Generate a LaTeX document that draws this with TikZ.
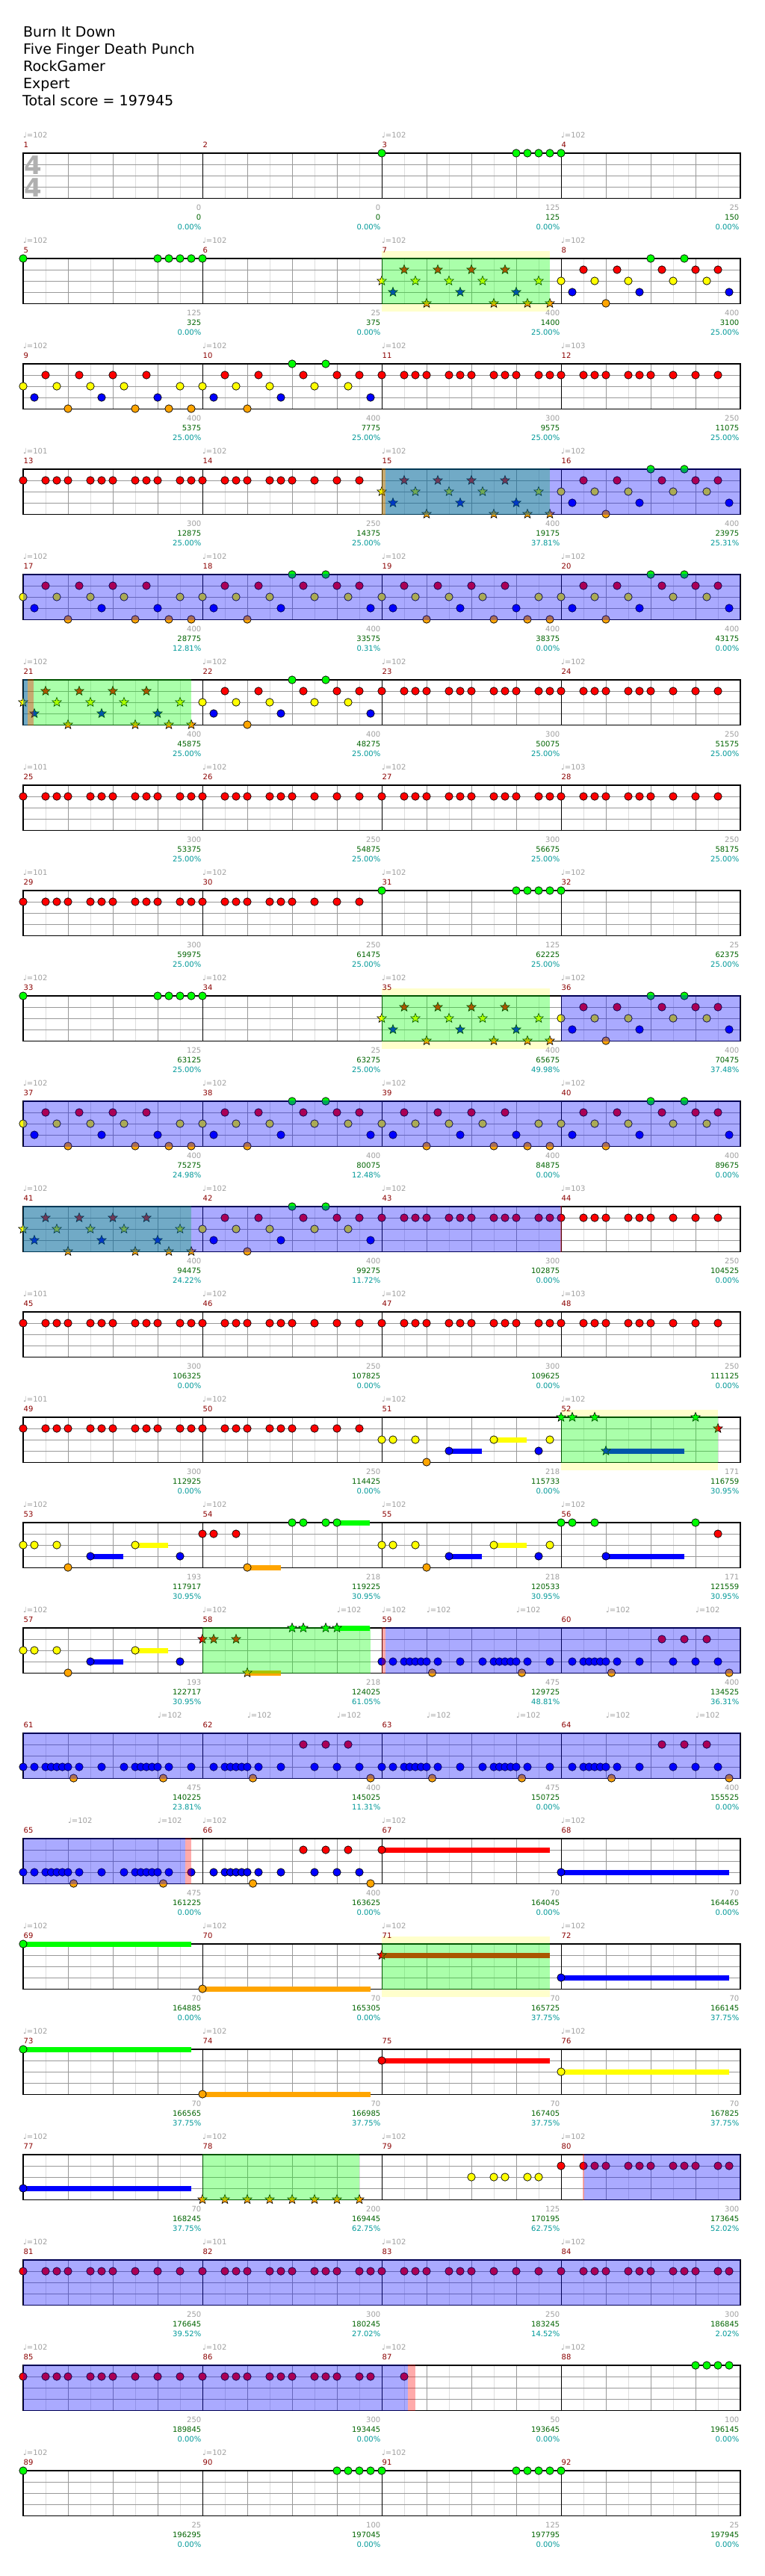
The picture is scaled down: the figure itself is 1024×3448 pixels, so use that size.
\documentclass[tikz,border=0pt]{standalone}
\usepackage{fontspec}
\setmainfont{DejaVu Sans}
\usetikzlibrary{shapes.geometric}
\definecolor{cG}{HTML}{00FF00}
\definecolor{cR}{HTML}{FF0000}
\definecolor{cY}{HTML}{FFFF00}
\definecolor{cB}{HTML}{0000FF}
\definecolor{cO}{HTML}{FFA500}
\definecolor{gridd}{HTML}{999999}
\definecolor{gridl}{HTML}{DDDDDD}
\definecolor{pale}{HTML}{FFFFCC}
\definecolor{tgray}{HTML}{A0A0A0}
\definecolor{tgreen}{HTML}{006400}
\definecolor{tcyan}{HTML}{009999}
\definecolor{tred}{HTML}{8B0000}
\definecolor{tsg}{HTML}{B0B0B0}
\tikzset{
 starn/.style={star,star points=5,star point ratio=2.3,minimum size=13,inner sep=0,draw=black,line width=0.6},
 tempo/.style={anchor=west,inner sep=0,text=tgray,font=\fontsize{10}{12}\selectfont},
 mnum/.style={anchor=west,inner sep=0,text=tred,font=\fontsize{10}{12}\selectfont},
 lg/.style={anchor=east,inner sep=0,text=tgray,font=\fontsize{10}{12}\selectfont},
 lgr/.style={anchor=east,inner sep=0,text=tgreen,font=\fontsize{10}{12}\selectfont},
 lc/.style={anchor=east,inner sep=0,text=tcyan,font=\fontsize{10}{12}\selectfont},
 head/.style={anchor=base west,inner sep=0,font=\fontsize{19}{23}\selectfont},
 ts/.style={inner sep=0,text=tsg,font=\fontsize{34}{34}\selectfont\bfseries}
}
\newcommand\Nt[3]{\filldraw[fill=#3,draw=black,line width=0.7] ({15*(#1)},#2) circle[radius=5.2];}
\newcommand\St[3]{\node[starn,fill=#3] at ({15*(#1)},#2) {};}
\newcommand\Sus[4]{\fill[#4] ({15*(#1)},{#2-3.5}) rectangle ({15*(#3)},{#2+3.5});}
\newcommand\Staff{%
 \fill[white] (0,0) rectangle (960,60.5);
 \foreach \i in {1,3,...,31} \draw[gridl,line width=1] ({30*\i},0) -- ({30*\i},60.5);
 \foreach \i in {1,2,3,5,6,7,9,10,11,13,14,15} \draw[gridd,line width=1] ({60*\i},0) -- ({60*\i},60.5);
 \foreach \yy in {15,30,45} \draw[gridd,line width=1] (0,\yy) -- (960,\yy);
 \foreach \i in {4,8,12} \draw[black,line width=1] ({60*\i},0) -- ({60*\i},60.5);
 \draw[black,line width=1.3] (0,0) rectangle (960,60.5);}
\newcommand\OD[2]{\fill[cB,opacity=0.333] ({15*(#1)},-0.65) rectangle ({15*(#2)},61.15);}
\newcommand\SP[2]{\fill[cG,opacity=0.333] ({15*(#1)},-0.65) rectangle ({15*(#2)},61.15);}
\newcommand\RS[2]{\fill[cR,opacity=0.333] ({15*(#1)},-0.65) rectangle ({15*(#2)},61.15);}
\newcommand\PY[2]{\fill[pale] ({15*(#1)},-10) rectangle ({15*(#2)},71);}
\newcommand\Tm[2]{\node[tempo] at ({15*(#1)},-24) {♩=#2};}
\newcommand\Mn[2]{\node[mnum] at ({240*(#1)+0.5},-11) {#2};}
\newcommand\Lb[4]{\node[lg] at ({240*(#1)+238.5},73) {#2};
 \node[lgr] at ({240*(#1)+238.5},86) {#3};
 \node[lc] at ({240*(#1)+238.5},99) {#4\%};}
% patterns
\newcommand\PA[2]{%
 \foreach \p in {0,3,6,9,14}{#1{#2+\p}{30}{cY}}%
 \foreach \p in {1,7,12}{#1{#2+\p}{45}{cB}}%
 \foreach \p in {2,5,8,11}{#1{#2+\p}{15}{cR}}%
 \foreach \p in {4,10,13,15}{#1{#2+\p}{60}{cO}}}
\newcommand\PB[2]{%
 \foreach \p in {0,3,6,10,13}{#1{#2+\p}{30}{cY}}%
 \foreach \p in {1,7,15}{#1{#2+\p}{45}{cB}}%
 \foreach \p in {2,5,9,12,14}{#1{#2+\p}{15}{cR}}%
 #1{#2+4}{60}{cO}%
 \foreach \p in {8,11}{#1{#2+\p}{0}{cG}}}
\newcommand\RA[1]{\foreach \p in {0,2,3,4,6,7,8,10,11,12,14,15}{\Nt{#1+\p}{15}{cR}}}
\newcommand\RB[1]{\foreach \p in {0,2,3,4,6,7,8,10,12,14}{\Nt{#1+\p}{15}{cR}}}
\newcommand\GI[1]{\foreach \p in {0,12,13,14,15,16}{\Nt{#1+\p}{0}{cG}}}
\newcommand\PC[1]{\foreach \p in {0,1,2,2.5,3,3.5,4,5,7,9,10,10.5,11,11.5,12,13,15}{\Nt{#1+\p}{45}{cB}}%
 \foreach \p in {4.5,12.5}{\Nt{#1+\p}{60}{cO}}}
\newcommand\PD[1]{\foreach \p in {1,2,2.5,3,3.5,4,5,7,10,12,14}{\Nt{#1+\p}{45}{cB}}%
 \foreach \p in {4.5,15}{\Nt{#1+\p}{60}{cO}}\foreach \p in {9,11,13}{\Nt{#1+\p}{15}{cR}}}
\newcommand\SC[1]{\Sus{#1+6}{45}{#1+8.92}{cB}\Sus{#1+10}{30}{#1+12.95}{cY}%
 \foreach \p in {0,1,3,10}{\Nt{#1+\p}{30}{cY}}\Nt{#1+4}{60}{cO}\Nt{#1+6}{45}{cB}\Nt{#1+14}{45}{cB}}
\newcommand\SA[1]{\SC{#1}\Nt{#1+15}{30}{cY}}
\newcommand\SB[2]{\Sus{#2+4}{45}{#2+11}{cB}\foreach \p in {0,1,3,12}{#1{#2+\p}{0}{cG}}#1{#2+4}{45}{cB}#1{#2+14}{15}{cR}}
\newcommand\SD[2]{\Sus{#2+4}{60}{#2+6.97}{cO}\Sus{#2+12}{0}{#2+14.93}{cG}%
 \foreach \p in {0,1,3}{#1{#2+\p}{15}{cR}}#1{#2+4}{60}{cO}\foreach \p in {8,9,11,12}{#1{#2+\p}{0}{cG}}}
\newcommand\Lng[4]{\Sus{#1}{#2}{#3}{#4}\Nt{#1}{#2}{#4}}
\begin{document}
\begin{tikzpicture}[x=1pt,y=-1pt]
\fill[white] (0,0) rectangle (1024,3448);
\useasboundingbox (0,0) rectangle (1024,3448);
\node[head] (t1) at (31,49) {Burn It Down};
\node[head] (t2) at (31,72) {Five Finger Death Punch};
\node[head] (t3) at (31,95) {RockGamer};
\node[head] (t4) at (31,118) {Expert};
\node[head] (t5) at (30,141) {Total score = 197945};
% row 1
\begin{scope}[shift={(31,205)}]
\Staff
\node[ts] at (13.5,15.8) {4};\node[ts] at (13.5,45.8) {4};
\GI{32}
\Tm{0}{102}\Tm{32}{102}\Tm{48}{102}
\Mn{0}{1}\Mn{1}{2}\Mn{2}{3}\Mn{3}{4}
\Lb{0}{0}{0}{0.00}\Lb{1}{0}{0}{0.00}\Lb{2}{125}{125}{0.00}\Lb{3}{25}{150}{0.00}
\end{scope}
% row 2
\begin{scope}[shift={(31,346)}]
\PY{32}{47}\Staff
\GI{0}\PA\St{32}\PB\Nt{48}
\SP{32}{47}
\Tm{0}{102}\Tm{16}{102}\Tm{32}{102}\Tm{48}{102}
\Mn{0}{5}\Mn{1}{6}\Mn{2}{7}\Mn{3}{8}
\Lb{0}{125}{325}{0.00}\Lb{1}{25}{375}{0.00}\Lb{2}{400}{1400}{25.00}\Lb{3}{400}{3100}{25.00}
\end{scope}
% row 3
\begin{scope}[shift={(31,487)}]
\Staff
\PA\Nt{0}\PB\Nt{16}\RA{32}\RB{48}
\Tm{0}{102}\Tm{16}{102}\Tm{32}{102}\Tm{48}{103}
\Mn{0}{9}\Mn{1}{10}\Mn{2}{11}\Mn{3}{12}
\Lb{0}{400}{5375}{25.00}\Lb{1}{400}{7775}{25.00}\Lb{2}{300}{9575}{25.00}\Lb{3}{250}{11075}{25.00}
\end{scope}
% row 4
\begin{scope}[shift={(31,628)}]
\Staff
\RA{0}\RB{16}\PA\St{32}\PB\Nt{48}
\SP{32}{47}\OD{32.35}{64}\RS{32}{32.35}
\Tm{0}{101}\Tm{16}{102}\Tm{32}{102}\Tm{48}{102}
\Mn{0}{13}\Mn{1}{14}\Mn{2}{15}\Mn{3}{16}
\Lb{0}{300}{12875}{25.00}\Lb{1}{250}{14375}{25.00}\Lb{2}{400}{19175}{37.81}\Lb{3}{400}{23975}{25.31}
\end{scope}
% row 5
\begin{scope}[shift={(31,769)}]
\Staff
\PA\Nt{0}\PB\Nt{16}\PA\Nt{32}\PB\Nt{48}
\OD{0}{64}
\Tm{0}{102}\Tm{16}{102}\Tm{32}{102}\Tm{48}{102}
\Mn{0}{17}\Mn{1}{18}\Mn{2}{19}\Mn{3}{20}
\Lb{0}{400}{28775}{12.81}\Lb{1}{400}{33575}{0.31}\Lb{2}{400}{38375}{0.00}\Lb{3}{400}{43175}{0.00}
\end{scope}
% row 6
\begin{scope}[shift={(31,910)}]
\Staff
\PA\St{0}\PB\Nt{16}\RA{32}\RB{48}
\SP{0}{15}\OD{0}{0.4}\RS{0.4}{0.96}
\Tm{0}{102}\Tm{16}{102}\Tm{32}{102}\Tm{48}{102}
\Mn{0}{21}\Mn{1}{22}\Mn{2}{23}\Mn{3}{24}
\Lb{0}{400}{45875}{25.00}\Lb{1}{400}{48275}{25.00}\Lb{2}{300}{50075}{25.00}\Lb{3}{250}{51575}{25.00}
\end{scope}
% row 7
\begin{scope}[shift={(31,1051)}]
\Staff
\RA{0}\RB{16}\RA{32}\RB{48}
\Tm{0}{101}\Tm{16}{102}\Tm{32}{102}\Tm{48}{103}
\Mn{0}{25}\Mn{1}{26}\Mn{2}{27}\Mn{3}{28}
\Lb{0}{300}{53375}{25.00}\Lb{1}{250}{54875}{25.00}\Lb{2}{300}{56675}{25.00}\Lb{3}{250}{58175}{25.00}
\end{scope}
% row 8
\begin{scope}[shift={(31,1192)}]
\Staff
\RA{0}\RB{16}\GI{32}
\Tm{0}{101}\Tm{16}{102}\Tm{32}{102}\Tm{48}{102}
\Mn{0}{29}\Mn{1}{30}\Mn{2}{31}\Mn{3}{32}
\Lb{0}{300}{59975}{25.00}\Lb{1}{250}{61475}{25.00}\Lb{2}{125}{62225}{25.00}\Lb{3}{25}{62375}{25.00}
\end{scope}
% row 9
\begin{scope}[shift={(31,1333)}]
\PY{32}{47}\Staff
\GI{0}\PA\St{32}\PB\Nt{48}
\SP{32}{47}\OD{48}{64}
\Tm{0}{102}\Tm{16}{102}\Tm{32}{102}\Tm{48}{102}
\Mn{0}{33}\Mn{1}{34}\Mn{2}{35}\Mn{3}{36}
\Lb{0}{125}{63125}{25.00}\Lb{1}{25}{63275}{25.00}\Lb{2}{400}{65675}{49.98}\Lb{3}{400}{70475}{37.48}
\end{scope}
% row 10
\begin{scope}[shift={(31,1474)}]
\Staff
\PA\Nt{0}\PB\Nt{16}\PA\Nt{32}\PB\Nt{48}
\OD{0}{64}
\Tm{0}{102}\Tm{16}{102}\Tm{32}{102}\Tm{48}{102}
\Mn{0}{37}\Mn{1}{38}\Mn{2}{39}\Mn{3}{40}
\Lb{0}{400}{75275}{24.98}\Lb{1}{400}{80075}{12.48}\Lb{2}{400}{84875}{0.00}\Lb{3}{400}{89675}{0.00}
\end{scope}
% row 11
\begin{scope}[shift={(31,1615)}]
\Staff
\PA\St{0}\PB\Nt{16}\RA{32}\RB{48}
\SP{0}{15}\OD{0}{48}\RS{47.93}{48.07}
\Tm{0}{102}\Tm{16}{102}\Tm{32}{102}\Tm{48}{103}
\Mn{0}{41}\Mn{1}{42}\Mn{2}{43}\Mn{3}{44}
\Lb{0}{400}{94475}{24.22}\Lb{1}{400}{99275}{11.72}\Lb{2}{300}{102875}{0.00}\Lb{3}{250}{104525}{0.00}
\end{scope}
% row 12
\begin{scope}[shift={(31,1756)}]
\Staff
\RA{0}\RB{16}\RA{32}\RB{48}
\Tm{0}{101}\Tm{16}{102}\Tm{32}{102}\Tm{48}{103}
\Mn{0}{45}\Mn{1}{46}\Mn{2}{47}\Mn{3}{48}
\Lb{0}{300}{106325}{0.00}\Lb{1}{250}{107825}{0.00}\Lb{2}{300}{109625}{0.00}\Lb{3}{250}{111125}{0.00}
\end{scope}
% row 13
\begin{scope}[shift={(31,1897)}]
\PY{48}{62}\Staff
\RA{0}\RB{16}\SA{32}\SB\St{48}
\SP{48}{62}
\Tm{0}{101}\Tm{16}{102}\Tm{32}{102}\Tm{48}{102}
\Mn{0}{49}\Mn{1}{50}\Mn{2}{51}\Mn{3}{52}
\Lb{0}{300}{112925}{0.00}\Lb{1}{250}{114425}{0.00}\Lb{2}{218}{115733}{0.00}\Lb{3}{171}{116759}{30.95}
\end{scope}
% row 14
\begin{scope}[shift={(31,2038)}]
\Staff
\SC{0}\SD\Nt{16}\SA{32}\SB\Nt{48}
\Tm{0}{102}\Tm{16}{102}\Tm{32}{102}\Tm{48}{102}
\Mn{0}{53}\Mn{1}{54}\Mn{2}{55}\Mn{3}{56}
\Lb{0}{193}{117917}{30.95}\Lb{1}{218}{119225}{30.95}\Lb{2}{218}{120533}{30.95}\Lb{3}{171}{121559}{30.95}
\end{scope}
% row 15
\begin{scope}[shift={(31,2179)}]
\Staff
\SC{0}\SD\St{16}\PC{32}\PD{48}
\SP{16}{31}\RS{32}{32.3}\OD{32.3}{64}
\Tm{0}{102}\Tm{16}{102}\Tm{28}{102}\Tm{32}{102}\Tm{36}{102}\Tm{44}{102}\Tm{52}{102}\Tm{60}{102}
\Mn{0}{57}\Mn{1}{58}\Mn{2}{59}\Mn{3}{60}
\Lb{0}{193}{122717}{30.95}\Lb{1}{218}{124025}{61.05}\Lb{2}{475}{129725}{48.81}\Lb{3}{400}{134525}{36.31}
\end{scope}
% row 16
\begin{scope}[shift={(31,2320)}]
\Staff
\PC{0}\PD{16}\PC{32}\PD{48}
\OD{0}{64}
\Tm{12}{102}\Tm{20}{102}\Tm{28}{102}\Tm{36}{102}\Tm{44}{102}\Tm{52}{102}\Tm{60}{102}
\Mn{0}{61}\Mn{1}{62}\Mn{2}{63}\Mn{3}{64}
\Lb{0}{475}{140225}{23.81}\Lb{1}{400}{145025}{11.31}\Lb{2}{475}{150725}{0.00}\Lb{3}{400}{155525}{0.00}
\end{scope}
% row 17
\begin{scope}[shift={(31,2461)}]
\Staff
\PC{0}\PD{16}\Lng{32}{15}{47}{cR}\Lng{48}{45}{63}{cB}
\OD{0}{14.45}\RS{14.45}{14.98}
\Tm{4}{102}\Tm{12}{102}\Tm{16}{102}\Tm{32}{102}\Tm{48}{102}
\Mn{0}{65}\Mn{1}{66}\Mn{2}{67}\Mn{3}{68}
\Lb{0}{475}{161225}{0.00}\Lb{1}{400}{163625}{0.00}\Lb{2}{70}{164045}{0.00}\Lb{3}{70}{164465}{0.00}
\end{scope}
% row 18
\begin{scope}[shift={(31,2602)}]
\PY{32}{47}\Staff
\Lng{0}{0}{15}{cG}\Lng{16}{60}{31}{cO}\Sus{32}{15}{47}{cR}\St{32}{15}{cR}\Lng{48}{45}{63}{cB}
\SP{32}{47}
\Tm{0}{102}\Tm{16}{102}\Tm{32}{102}\Tm{48}{102}
\Mn{0}{69}\Mn{1}{70}\Mn{2}{71}\Mn{3}{72}
\Lb{0}{70}{164885}{0.00}\Lb{1}{70}{165305}{0.00}\Lb{2}{70}{165725}{37.75}\Lb{3}{70}{166145}{37.75}
\end{scope}
% row 19
\begin{scope}[shift={(31,2743)}]
\Staff
\Lng{0}{0}{15}{cG}\Lng{16}{60}{31}{cO}\Lng{32}{15}{47}{cR}\Lng{48}{30}{63}{cY}
\Tm{0}{102}\Tm{16}{102}\Tm{48}{102}
\Mn{0}{73}\Mn{1}{74}\Mn{2}{75}\Mn{3}{76}
\Lb{0}{70}{166565}{37.75}\Lb{1}{70}{166985}{37.75}\Lb{2}{70}{167405}{37.75}\Lb{3}{70}{167825}{37.75}
\end{scope}
% row 20
\begin{scope}[shift={(31,2884)}]
\Staff
\Lng{0}{45}{15}{cB}
\foreach \p in {16,18,...,30}{\St{\p}{60}{cO}}
\foreach \p in {40,42,43,45,46}{\Nt{\p}{30}{cY}}
\RA{48}
\SP{16}{30}\RS{49.93}{50.07}\OD{50.07}{64}
\Tm{0}{102}\Tm{16}{102}\Tm{32}{102}\Tm{48}{102}
\Mn{0}{77}\Mn{1}{78}\Mn{2}{79}\Mn{3}{80}
\Lb{0}{70}{168245}{37.75}\Lb{1}{200}{169445}{62.75}\Lb{2}{125}{170195}{62.75}\Lb{3}{300}{173645}{52.02}
\end{scope}
% row 21
\begin{scope}[shift={(31,3025)}]
\Staff
\RB{0}\RA{16}\RB{32}\RA{48}
\OD{0}{64}
\Tm{0}{102}\Tm{16}{101}\Tm{32}{102}\Tm{48}{102}
\Mn{0}{81}\Mn{1}{82}\Mn{2}{83}\Mn{3}{84}
\Lb{0}{250}{176645}{39.52}\Lb{1}{300}{180245}{27.02}\Lb{2}{250}{183245}{14.52}\Lb{3}{300}{186845}{2.02}
\end{scope}
% row 22
\begin{scope}[shift={(31,3166)}]
\Staff
\RB{0}\RA{16}\Nt{34}{15}{cR}
\foreach \p in {60,61,62,63}{\Nt{\p}{0}{cG}}
\OD{0}{34.3}\RS{34.3}{35}
\Tm{0}{102}\Tm{16}{102}\Tm{32}{102}\Tm{48}{102}
\Mn{0}{85}\Mn{1}{86}\Mn{2}{87}\Mn{3}{88}
\Lb{0}{250}{189845}{0.00}\Lb{1}{300}{193445}{0.00}\Lb{2}{50}{193645}{0.00}\Lb{3}{100}{196145}{0.00}
\end{scope}
% row 23
\begin{scope}[shift={(31,3307)}]
\Staff
\foreach \p in {0,28,29,30,31,32,44,45,46,47,48}{\Nt{\p}{0}{cG}}
\Tm{0}{102}\Tm{16}{102}\Tm{32}{102}
\Mn{0}{89}\Mn{1}{90}\Mn{2}{91}\Mn{3}{92}
\Lb{0}{25}{196295}{0.00}\Lb{1}{100}{197045}{0.00}\Lb{2}{125}{197795}{0.00}\Lb{3}{25}{197945}{0.00}
\end{scope}
\end{tikzpicture}
\end{document}
